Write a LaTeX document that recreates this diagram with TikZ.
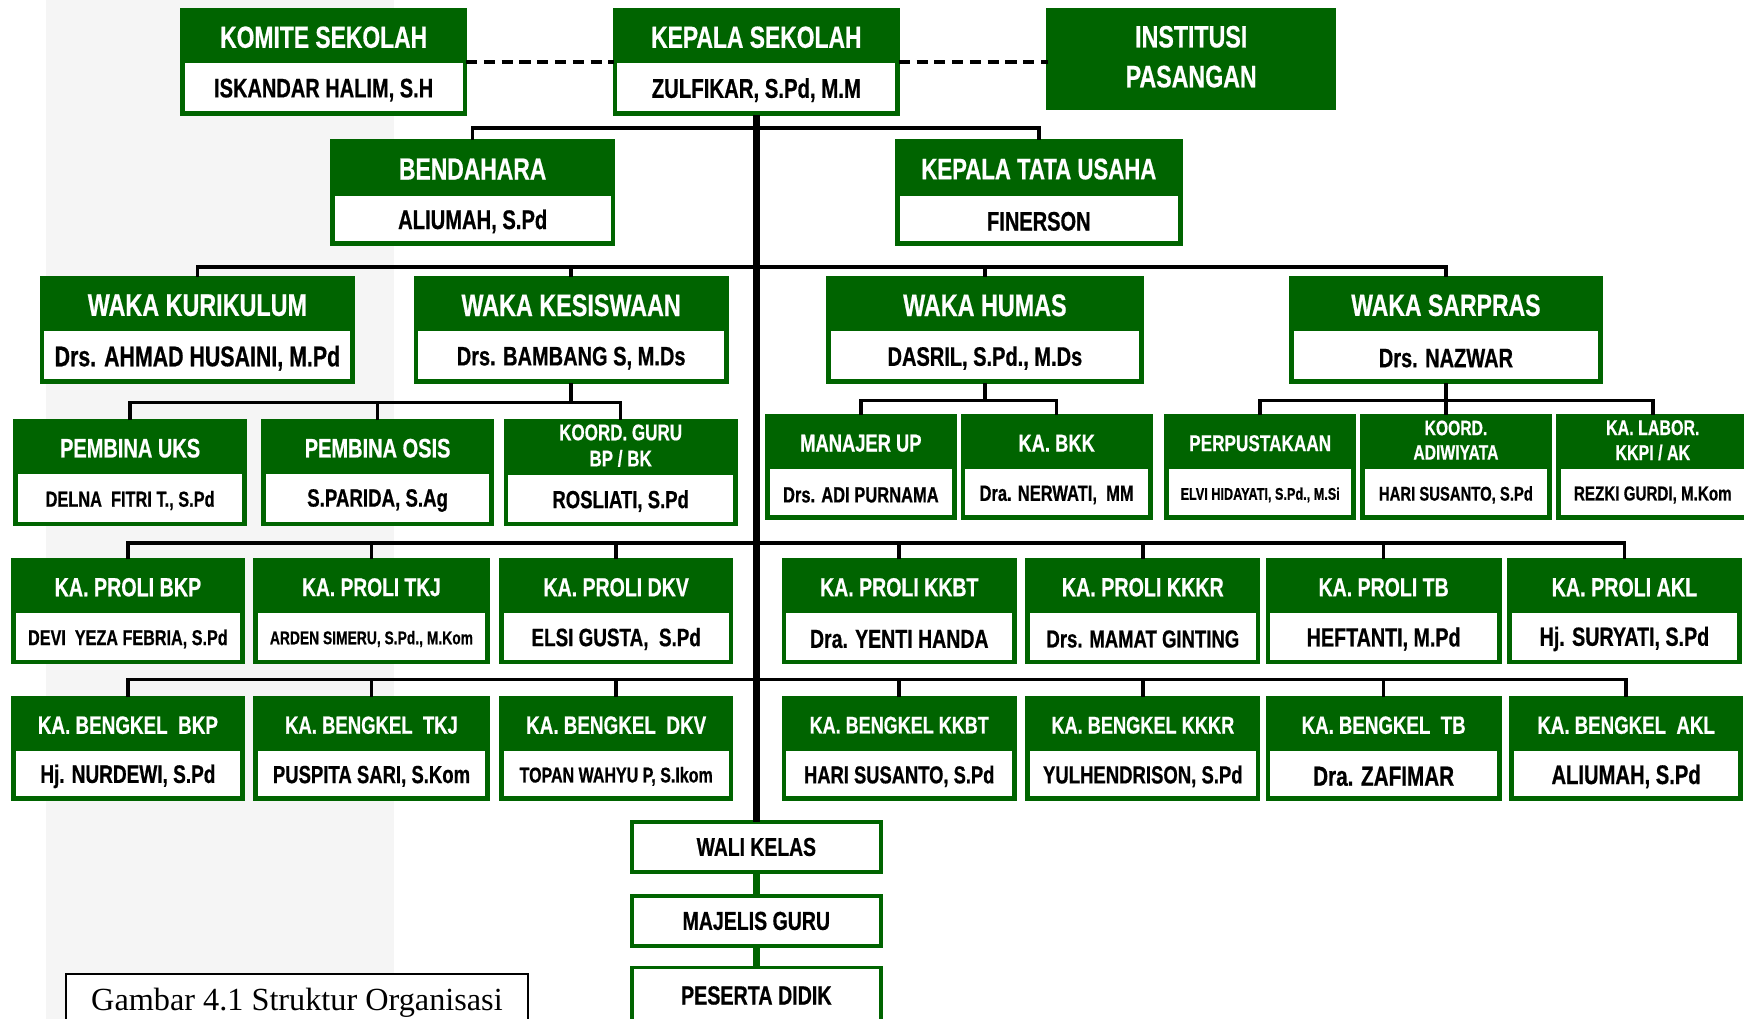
\documentclass[tikz,border=0pt]{standalone}
\usepackage{fontspec}
\setmainfont{Liberation Sans}
\newfontfamily\cond[FakeStretch=0.75, BoldFeatures={FakeBold=0.6}]{Liberation Sans}
\newfontfamily\capf{Liberation Serif}
\definecolor{hdr}{RGB}{0,100,0}
\definecolor{bandgray}{RGB}{245,245,245}
\newcommand\fs[1]{\fontsize{#1}{#1}\selectfont}
\tikzset{
 gbox/.style={draw=hdr, fill=hdr, line width=1.2pt, inner sep=0pt, outer sep=0pt},
 ttl/.style={text=white, font=\cond\bfseries, inner sep=0pt, align=center},
 nm/.style={text=black, font=\cond\bfseries, inner sep=0pt, align=center},
 conn/.style={line width=1.6pt, draw=black},
 trunkline/.style={line width=3pt, draw=black},
 dashln/.style={line width=1.8pt, draw=black, dash pattern=on 5pt off 3pt},
 wbox/.style={draw=hdr, fill=white, line width=1.6pt, minimum width=112pt, inner sep=0pt, outer sep=0pt, font=\cond\bfseries, text=black},
 gline/.style={line width=3pt, draw=hdr},
 capbox/.style={draw=black, fill=white, line width=0.8pt, font=\capf, minimum width=208pt, minimum height=26pt, inner sep=0pt},
}
% name, x1, x2, y1, ysplit, y2, title, person
\newcommand\ob[8]{%
 \node[gbox, anchor=north west, minimum width={(#3-#2)*0.5pt}, minimum height={(#6-#4)*0.5pt}] (#1) at (#2,#4) {};
 \fill[white] ({#2+3},#5) rectangle ({#3-3},{#6-3});
 \node[ttl] (#1-t) at ({(#2+#3)/2},{(#4+#5)/2+1}) {#7};
 \node[nm] (#1-n) at ({(#2+#3)/2},{(#5+#6)/2+1}) {#8};
}
\newcommand\two[4]{\fs{#1}\begin{tabular}{@{}c@{}}#2\\[#3]#4\end{tabular}}
\begin{document}
\begin{tikzpicture}[x=0.5pt,y=-0.5pt]
\useasboundingbox (0,0) rectangle (1568,916);
\fill[white] (0,0) rectangle (1568,916);
\fill[bandgray] (41,0) rectangle (354,916);

% top row
\ob{kom}{163}{419}{8}{57}{103}{\fs{13.7}KOMITE SEKOLAH}{\fs{12}ISKANDAR HALIM, S.H}
\ob{kep}{552}{808}{8}{57}{103}{\fs{13.7}KEPALA SEKOLAH}{\fs{12.2}ZULFIKAR, S.Pd, M.M}
\node[gbox, anchor=north west, minimum width=129pt, minimum height=45pt] (inst) at (942,8) {};
\node[ttl] (inst-t) at ([yshift=-1pt]inst.center) {\two{13.9}{INSTITUSI}{4pt}{PASANGAN}};

\ob{bend}{298}{552}{126}{176}{220}{\fs{13.7}BENDAHARA}{\fs{12.1}ALIUMAH, S.Pd}
\ob{ktu}{806}{1062}{126}{176}{220}{\fs{13.3}KEPALA TATA USAHA}{\fs{12}FINERSON}

% waka row
\ob{wkur}{37}{318}{249}{298}{344}{\fs{14}WAKA KURIKULUM}{\fs{12.8}Drs. AHMAD HUSAINI, M.Pd}
\ob{wkes}{373}{654}{249}{298}{344}{\fs{14}WAKA KESISWAAN}{\fs{12}Drs. BAMBANG S, M.Ds}
\ob{whum}{744}{1027}{249}{298}{344}{\fs{14}WAKA HUMAS}{\fs{12}DASRIL, S.Pd., M.Ds}
\ob{wsar}{1160}{1440}{249}{298}{344}{\fs{13.8}WAKA SARPRAS}{\fs{12}Drs. NAZWAR}

% row 3
\ob{uks}{13}{221}{378}{426}{472}{\fs{12}PEMBINA UKS}{\fs{9.8}DELNA\ \ FITRI T., S.Pd}
\ob{osis}{236}{443}{378}{426}{472}{\fs{12}PEMBINA OSIS}{\fs{11.2}S.PARIDA, S.Ag}
\ob{bpbk}{454}{662}{378}{427}{472}{\two{10.2}{KOORD. GURU}{1.3pt}{BP / BK}}{\fs{11.1}ROSLIATI, S.Pd}
\ob{man}{689}{859}{373}{422}{466}{\fs{11}MANAJER UP}{\fs{9.9}Drs. ADI PURNAMA}
\ob{bkk}{865}{1035}{373}{422}{466}{\fs{11}KA. BKK}{\fs{9.9}Dra. NERWATI,\ \ MM}
\ob{perp}{1048}{1218}{373}{422}{466}{\fs{10.3}PERPUSTAKAAN}{\fs{7.6}ELVI HIDAYATI, S.Pd., M.Si}
\ob{adi}{1224}{1394}{373}{422}{466}{\two{9.4}{KOORD.}{1.6pt}{ADIWIYATA}}{\fs{8.9}HARI SUSANTO, S.Pd}
\ob{lab}{1400}{1572}{373}{422}{466}{\two{9.6}{KA. LABOR.}{1.4pt}{KKPI / AK}}{\fs{9.1}REZKI GURDI, M.Kom}

% row 4 (proli)
\ob{pbkp}{11}{219}{503}{551}{596}{\fs{11.8}KA. PROLI BKP}{\fs{9.7}DEVI\ \ YEZA FEBRIA, S.Pd}
\ob{ptkj}{229}{439}{503}{551}{596}{\fs{11.5}KA. PROLI TKJ}{\fs{8.3}ARDEN SIMERU, S.Pd., M.Kom}
\ob{pdkv}{450}{658}{503}{551}{596}{\fs{11.7}KA. PROLI DKV}{\fs{11.3}ELSI GUSTA,\ \ S.Pd}
\ob{pkkbt}{704}{913}{503}{551}{596}{\fs{11.7}KA. PROLI KKBT}{\fs{11.7}Dra. YENTI HANDA}
\ob{pkkkr}{923}{1132}{503}{551}{596}{\fs{11.8}KA. PROLI KKKR}{\fs{11.1}Drs. MAMAT GINTING}
\ob{ptb}{1139}{1349}{503}{551}{596}{\fs{11.7}KA. PROLI TB}{\fs{11.8}HEFTANTI, M.Pd}
\ob{pakl}{1356}{1565}{503}{551}{596}{\fs{11.8}KA. PROLI AKL}{\fs{11.8}Hj. SURYATI, S.Pd}

% row 5 (bengkel)
\ob{bbkp}{11}{219}{627}{675}{719}{\fs{11.3}KA. BENGKEL\ \ BKP}{\fs{11.4}Hj. NURDEWI, S.Pd}
\ob{btkj}{229}{439}{627}{675}{719}{\fs{11.1}KA. BENGKEL\ \ TKJ}{\fs{11.1}PUSPITA SARI, S.Kom}
\ob{bdkv}{450}{658}{627}{675}{719}{\fs{11.3}KA. BENGKEL\ \ DKV}{\fs{9.6}TOPAN WAHYU P, S.Ikom}
\ob{bkkbt}{704}{913}{627}{675}{719}{\fs{10.8}KA. BENGKEL KKBT}{\fs{11}HARI SUSANTO, S.Pd}
\ob{bkkkr}{923}{1132}{627}{675}{719}{\fs{10.9}KA. BENGKEL KKKR}{\fs{11.1}YULHENDRISON, S.Pd}
\ob{btb}{1139}{1349}{627}{675}{719}{\fs{11.2}KA. BENGKEL\ \ TB}{\fs{12.4}Dra. ZAFIMAR}
\ob{bakl}{1358}{1566}{627}{675}{719}{\fs{11.2}KA. BENGKEL\ \ AKL}{\fs{12.1}ALIUMAH, S.Pd}

% bottom boxes
\node[wbox, minimum height=22.5pt] (wali) at (680,761.5) {\fs{11.6}WALI KELAS};
\node[wbox, minimum height=22.5pt] (maj) at (680,828) {\fs{11.7}MAJELIS GURU};
\node[wbox, minimum height=25pt] (pes) at (680,895) {\fs{11.8}PESERTA DIDIK};

% caption
\node[capbox] (cap) at (267,902) {\fs{14.5}Gambar 4.1 Struktur Organisasi};

% connectors
\draw[dashln] (kom.east) -- (kep.west);
\draw[dashln] (kep.east) -- (kep.east -| inst.west);
\draw[trunkline] (kep.south) -- (wali.north);
\draw[conn] (bend.north) -- ++(0,-11) -| (ktu.north);
\draw[conn] (wkur.north) -- ++(0,-9) coordinate (b2) -| (wsar.north);
\draw[conn] (wkes.north) -- (wkes.north |- b2);
\draw[conn] (whum.north) -- (whum.north |- b2);
\draw[conn] (uks.north) -- ++(0,-16) coordinate (b3a) -| (bpbk.north);
\draw[conn] (osis.north) -- (osis.north |- b3a);
\draw[conn] (wkes.south) -- (wkes.south |- b3a);
\draw[conn] (man.north) -- ++(0,-13) coordinate (b3b) -| (bkk.north);
\draw[conn] (whum.south) -- (whum.south |- b3b);
\draw[conn] (perp.north) -- ++(0,-13) coordinate (b3c) -| (lab.north);
\draw[conn] (wsar.south) -- (wsar.south |- adi.north);
\draw[conn] (pbkp.north) -- ++(0,-15) coordinate (b4) -| (pakl.north);
\foreach \n in {ptkj,pdkv,pkkbt,pkkkr,ptb} \draw[conn] (\n.north) -- (\n.north |- b4);
\draw[conn] (bbkp.north) -- ++(0,-16) coordinate (b5) -| (bakl.north);
\foreach \n in {btkj,bdkv,bkkbt,bkkkr,btb} \draw[conn] (\n.north) -- (\n.north |- b5);
\draw[gline] (wali.south) -- (maj.north);
\draw[gline] (maj.south) -- (pes.north);
\end{tikzpicture}
\end{document}
